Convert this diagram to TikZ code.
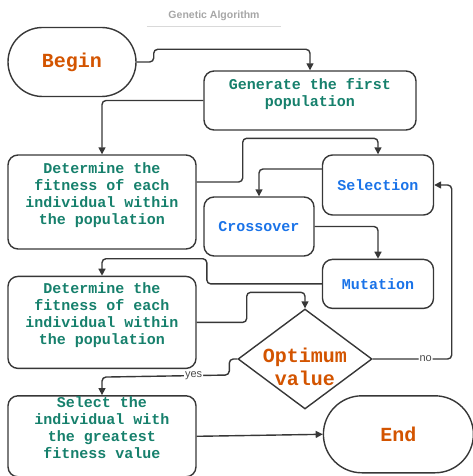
\documentclass[tikz,border=0pt]{standalone}
\usepackage{xcolor}
\usepackage{fontspec}
\setmainfont{Liberation Sans}
\newfontfamily\codefont{Liberation Mono}
\usepackage{tikz}
\usetikzlibrary{shapes.geometric, shapes.misc, arrows.meta, positioning, calc}

\definecolor{codegreen}{RGB}{22,128,108}
\definecolor{codeblue}{RGB}{26,115,232}
\definecolor{codeorange}{RGB}{211,84,0}
\definecolor{edgegray}{RGB}{55,55,55}

\begin{document}
\begin{tikzpicture}[
    x=1pt, y=-1pt,
    node distance=26pt,
    terminal/.style={rounded rectangle, draw=edgegray, line width=1.4pt, inner sep=0pt, font=\codefont\bfseries\fontsize{20}{23}\selectfont, text=codeorange},
    procbox/.style={rectangle, draw=edgegray, line width=1.4pt, rounded corners=10pt, inner sep=0pt, align=center, font=\codefont\bfseries\fontsize{15}{17}\selectfont, text=codegreen},
    opbox/.style={procbox, text=codeblue, minimum width=111pt},
    decision/.style={diamond, draw=edgegray, line width=1.4pt, inner sep=0pt, minimum width=134pt, minimum height=100pt},
    bigtxt/.style={align=center, inner sep=0pt, font=\codefont\bfseries\fontsize{20}{23}\selectfont, text=codeorange},
    titletxt/.style={font=\bfseries\fontsize{10.5}{12}\selectfont, text=black!35, inner sep=0pt},
    flow/.style={-{Triangle[length=7pt,width=7pt]}, line width=1.4pt, draw=edgegray, rounded corners=4pt},
    lbl/.style={font=\fontsize{11}{13}\selectfont, text=black!70, fill=white, inner sep=1pt},
]
\useasboundingbox (0,0) rectangle (473,476);

% title
\node[titletxt, minimum width=134pt, anchor=base] (title) at (214,19) {Genetic Algorithm};
\draw[black!15, line width=0.8pt] ([yshift=-7pt]title.base west) -- ([yshift=-7pt]title.base east);

% left column
\node[terminal, minimum width=128pt, minimum height=69pt] (begin) at (72,62) {Begin};
\node[procbox, minimum width=212pt, minimum height=59pt] (gen) at (310,100.5) {Generate the first\\population\\ \mbox{}};
\node[procbox, minimum width=188pt, minimum height=94pt] (det1) at (102,202) {Determine the\\fitness of each\\individual within\\the population\\ \mbox{}};
\node[procbox, minimum width=188pt, minimum height=92pt, below=of det1] (det2) {Determine the\\fitness of each\\individual within\\the population\\ \mbox{}};
\node[procbox, minimum width=188pt, minimum height=81pt, below=of det2] (choose) {Select the\\individual with\\the greatest\\fitness value\\ \mbox{}};

% operators
\node[opbox, minimum height=60pt] (sel) at (378,185) {Selection};
\node[opbox, minimum height=49pt, below=43pt of sel] (mut) {Mutation};
\node[opbox, minimum width=110pt, minimum height=59pt] (cross) at (259,226.5) {Crossover};

% decision and end
\node[decision] (opt) at (305,359) {};
\node[bigtxt] (optlabel) at (305,366.5) {Optimum\\value};
\node[terminal, minimum width=150pt, minimum height=77pt, right=126pt of choose, yshift=2pt] (end) {End};

% connectors
\draw[flow] (begin.east) -- ++(17,0) |- ($(gen.north)+(0,-21)$) -- (gen.north);
\draw[flow] (gen.west) -| (det1.north);
\draw[flow] ([yshift=20pt]det1.east) -- ++(46,0) |- ($(sel.north)+(0,-16)$) -- (sel.north);
\draw[flow] ([yshift=16pt]sel.west) -| (cross.north);
\draw[flow] (cross.east) -| (mut.north);
\draw[flow] (mut.west) -- ++(-115,0) |- ($(det2.north)+(0,-17)$) -- (det2.north);
\draw[flow] (det2.east) -- ++(50,0) |- ($(opt.north)+(0,-16)$) -- (opt.north);
\draw[flow] (opt.east) -- node[lbl, pos=0.67] {no} ++(79,0) |- (sel.east);
\draw[flow] (opt.west) -- ++(-8,0) -- ++(0,16) -- node[lbl, pos=0.28] {yes} ($(choose.north)+(0,-18)$) -- (choose.north);
\draw[flow] (choose.east) -- (end.west);
\end{tikzpicture}
\end{document}
